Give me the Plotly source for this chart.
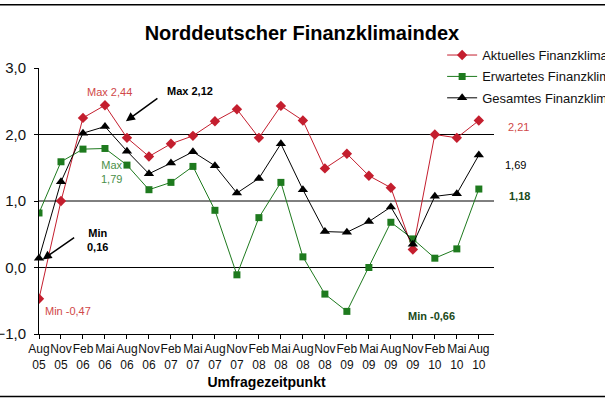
import plotly.graph_objects as go

categories = ["Aug 05", "Nov 05", "Feb 06", "Mai 06", "Aug 06", "Nov 06", "Feb 07",
              "Mai 07", "Aug 07", "Nov 07", "Feb 08", "Mai 08", "Aug 08", "Nov 08",
              "Feb 09", "Mai 09", "Aug 09", "Nov 09", "Feb 10", "Mai 10", "Aug 10"]

aktuelles = [-0.47, 1.00, 2.25, 2.44, 1.95, 1.67, 1.86, 1.98, 2.20, 2.38, 1.95,
             2.43, 2.21, 1.49, 1.71, 1.38, 1.20, 0.27, 2.00, 1.95, 2.21]
erwartetes = [0.82, 1.59, 1.78, 1.79, 1.54, 1.17, 1.28, 1.52, 0.86, -0.11, 0.75,
              1.28, 0.16, -0.40, -0.66, 0.00, 0.68, 0.43, 0.14, 0.28, 1.18]
gesamtes = [0.14, 1.29, 2.02, 2.12, 1.75, 1.41, 1.57, 1.74, 1.53, 1.12, 1.34,
            1.86, 1.17, 0.54, 0.53, 0.69, 0.91, 0.35, 1.07, 1.11, 1.69]

y_ticks = [-1, 0, 1, 2, 3]
grid_levels = [0, 1, 2]

RED = "#C41E2E"
GREEN = "#1E7A1E"
BLACK = "#000000"
FONT = "Liberation Sans, Arial, sans-serif"

fig = go.Figure()
fig.add_trace(go.Scatter(x=categories, y=aktuelles, name="Aktuelles Finanzklima",
                         mode="lines+markers", cliponaxis=True, legendgroup="a",
                         line=dict(color=RED, width=1),
                         marker=dict(symbol="diamond", size=8, color=RED)))
fig.add_trace(go.Scatter(x=categories, y=erwartetes, name="Erwartetes Finanzklima",
                         mode="lines+markers", cliponaxis=True, legendgroup="e",
                         line=dict(color=GREEN, width=1),
                         marker=dict(symbol="square", size=7, color=GREEN)))
fig.add_trace(go.Scatter(x=categories, y=gesamtes, name="Gesamtes Finanzklima",
                         mode="lines+markers", cliponaxis=False, legendgroup="g",
                         line=dict(color=BLACK, width=1),
                         marker=dict(symbol="triangle-up", size=9, color=BLACK)))

shapes = []
for lv in grid_levels:
    shapes.append(dict(type="line", xref="paper", yref="y", x0=0, x1=1, y0=lv, y1=lv,
                       line=dict(color="black", width=1), layer="below"))
# outer frame lines (top and bottom)
shapes.append(dict(type="line", xref="paper", yref="paper", x0=-0.1, x1=1.3,
                   y0=1.238, y1=1.238, line=dict(color="black", width=1.5)))
shapes.append(dict(type="line", xref="paper", yref="paper", x0=-0.1, x1=1.3,
                   y0=-0.2346, y1=-0.2346, line=dict(color="black", width=1.5)))

def ann(text, x, y, color, size=11, bold=False, xanchor="center", yref="y"):
    t = f"<b>{text}</b>" if bold else text
    return dict(text=t, x=x, y=y, xref="paper", yref=yref, showarrow=False,
                xanchor=xanchor, yanchor="middle",
                font=dict(family=FONT, size=size, color=color))

annotations = [
    ann("Max 2,44", 0.155, 2.64, "#D04848"),
    ann("Max 2,12", 0.276, 2.65, BLACK, bold=True, xanchor="left"),
    ann("Max<br>1,79", 0.160, 1.43, "#4A8F4A"),
    ann("Min<br>0,16", 0.100, 0.42, BLACK, bold=True, xanchor="left"),
    ann("Min -0,47", 0.008, -0.65, "#D04848", xanchor="left"),
    ann("Min -0,66", 0.863, -0.73, "#1A4A1A", bold=True),
    ann("2,21", 1.026, 2.11, "#D04848", xanchor="left"),
    ann("1,69", 1.020, 1.54, BLACK, xanchor="left"),
    ann("1,18", 1.029, 1.08, "#1A4A1A", bold=True, xanchor="left"),
    # arrows
    dict(text="", x=0.191, y=2.20, xref="paper", yref="y", showarrow=True,
         ax=33, ay=-24, arrowhead=2, arrowsize=1.2, arrowwidth=1.5, arrowcolor=BLACK),
    dict(text="", x=0.008, y=0.12, xref="paper", yref="y", showarrow=True,
         ax=33, ay=-23, arrowhead=2, arrowsize=1.2, arrowwidth=1.5, arrowcolor=BLACK),
]

fig.update_layout(
    width=605, height=403,
    margin=dict(l=39, r=111, t=68, b=69, autoexpand=False),
    paper_bgcolor="white", plot_bgcolor="white",
    separators=",.",
    font=dict(family=FONT, color="#111111"),
    title=dict(text="<b>Norddeutscher Finanzklimaindex</b>", x=0.499, xref="container",
               xanchor="center", y=1 - 33 / 403, yref="container", yanchor="middle",
               font=dict(family=FONT, size=20, color="black")),
    showlegend=True,
    legend=dict(x=0.886, y=1.105, xanchor="left", yanchor="top",
                bgcolor="rgba(0,0,0,0)", font=dict(family=FONT, size=13, color="#111111"),
                tracegroupgap=1.5, itemwidth=30),
    xaxis=dict(type="category", range=[0, 20.69], showgrid=False, zeroline=False,
               showline=True, linecolor="black", linewidth=1,
               ticks="outside", ticklen=4, tickcolor="black",
               tickvals=categories, ticktext=[c.replace(" ", "<br>") for c in categories],
               tickangle=0, tickfont=dict(family=FONT, size=12, color="#111111"),
               title=dict(text="<b>Umfragezeitpunkt</b>", standoff=6,
                          font=dict(family=FONT, size=14, color="black"))),
    yaxis=dict(range=[-1, 3], showgrid=False, zeroline=False,
               showline=True, linecolor="black", linewidth=1,
               ticks="outside", ticklen=4, tickcolor="black",
               tickvals=y_ticks, tickformat=".1f", ticklabelstandoff=5,
               tickfont=dict(family=FONT, size=15, color="#111111")),
    shapes=shapes,
    annotations=annotations,
)

fig.write_html("out.html")
